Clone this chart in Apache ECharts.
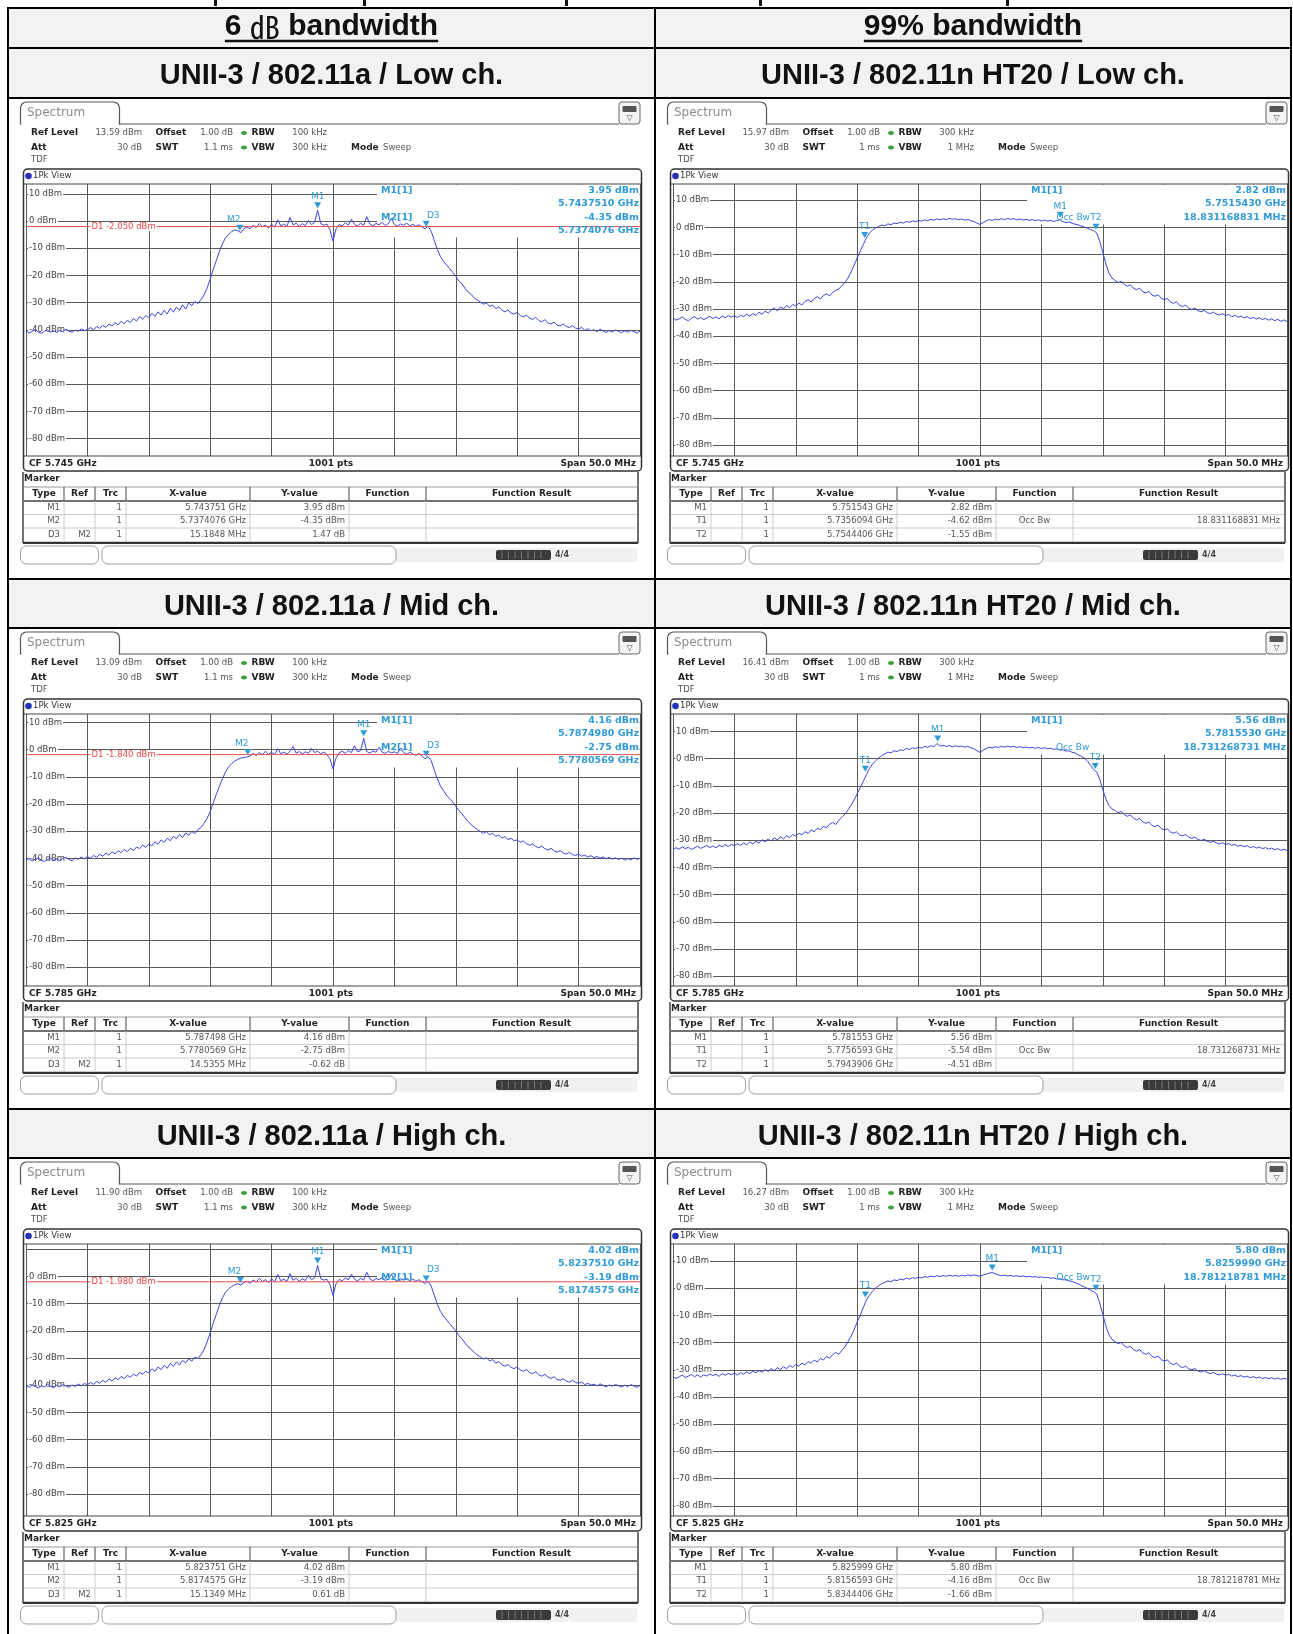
<!DOCTYPE html>
<html><head><meta charset="utf-8">
<script src="https://cdn.jsdelivr.net/npm/echarts@6.0.0/dist/echarts.min.js"></script>
<style>html,body{margin:0;padding:0;background:#fff}#c{width:1293px;height:1634px}</style>
</head><body><div id="c"></div>
<script>
// ---------------- DATA ----------------
const sweepOffsetsMHz = [
-25,-24.75,-24.5,-24.25,-24,-23.75,-23.5,-23.25,-23,-22.75,-22.5,-22.25,-22,-21.75,-21.5,-21.25,-21,-20.75,-20.5,-20.25,
-20,-19.75,-19.5,-19.25,-19,-18.75,-18.5,-18.25,-18,-17.75,-17.5,-17.25,-17,-16.75,-16.5,-16.25,-16,-15.75,-15.5,-15.25,
-15,-14.75,-14.5,-14.25,-14,-13.75,-13.5,-13.25,-13,-12.75,-12.5,-12.25,-12,-11.75,-11.5,-11.25,-11,-10.75,-10.5,-10.25,
-10,-9.75,-9.5,-9.25,-9,-8.75,-8.5,-8.25,-8,-7.75,-7.5,-7.25,-7,-6.75,-6.5,-6.25,-6,-5.75,-5.5,-5.25,
-5,-4.75,-4.5,-4.25,-4,-3.75,-3.5,-3.25,-3,-2.75,-2.5,-2.25,-2,-1.75,-1.5,-1.25,-1,-0.75,-0.5,-0.25,
0,0.25,0.5,0.75,1,1.25,1.5,1.75,2,2.25,2.5,2.75,3,3.25,3.5,3.75,4,4.25,4.5,4.75,
5,5.25,5.5,5.75,6,6.25,6.5,6.75,7,7.25,7.5,7.75,8,8.25,8.5,8.75,9,9.25,9.5,9.75,
10,10.25,10.5,10.75,11,11.25,11.5,11.75,12,12.25,12.5,12.75,13,13.25,13.5,13.75,14,14.25,14.5,14.75,
15,15.25,15.5,15.75,16,16.25,16.5,16.75,17,17.25,17.5,17.75,18,18.25,18.5,18.75,19,19.25,19.5,19.75,
20,20.25,20.5,20.75,21,21.25,21.5,21.75,22,22.25,22.5,22.75,23,23.25,23.5,23.75,24,24.25,24.5,24.75,25];

const level11aLow = [
-40.3,-41.2,-40.6,-39.9,-40.8,-41.4,-40.5,-40.1,-40.9,-40.4,-41.0,-40.2,-40.7,-39.8,-40.5,-40.9,-40.1,-40.6,-39.7,-40.3,
-39.9,-39.2,-40.1,-38.8,-39.5,-38.4,-39.1,-37.9,-38.6,-37.4,-38.2,-36.9,-37.8,-36.5,-37.3,-35.9,-36.8,-35.2,-36.1,-34.8,
-35.6,-33.9,-35.1,-33.4,-34.6,-32.8,-34.2,-32.1,-33.5,-31.7,-32.9,-30.8,-32.4,-30.2,-31.1,-29.6,-30.4,-28.9,-27.2,-24.6,
-21.3,-17.8,-14.6,-11.2,-8.4,-6.1,-5.0,-3.9,-3.3,-3.6,-4.3,-2.8,-2.2,-2.9,-1.6,-2.4,-0.9,-2.1,-1.5,-2.6,
-1.2,-2.3,0.4,-1.8,-1.1,-2.0,1.3,-1.5,-0.8,-1.9,-1.0,-1.7,0.2,-1.3,-0.6,3.95,-0.9,-1.6,-1.1,-3.2,
-7.4,-2.9,-1.3,-1.8,-0.7,-1.5,0.6,-1.2,-1.9,-0.8,-1.6,1.6,-1.1,-1.8,-0.9,-1.4,-0.5,-1.7,-1.0,0.9,
-1.3,-1.9,-1.1,-1.6,-0.8,-1.8,-1.2,-2.0,-1.4,-2.2,-2.9,-1.9,-3.8,-7.2,-10.5,-13.1,-14.8,-16.2,-17.5,-18.9,
-20.4,-22.1,-23.0,-24.8,-26.1,-27.0,-28.3,-29.1,-29.8,-30.6,-30.1,-31.4,-30.9,-32.2,-31.6,-32.8,-33.4,-32.7,-33.9,-34.2,
-33.6,-34.8,-35.3,-34.6,-35.7,-36.2,-35.4,-36.6,-37.1,-36.3,-37.4,-37.9,-37.2,-38.3,-38.6,-37.9,-38.8,-39.2,-38.5,-39.4,
-39.7,-39.1,-40.2,-39.6,-40.4,-40.0,-40.7,-39.8,-40.5,-41.0,-40.3,-40.8,-40.1,-40.6,-41.1,-40.4,-40.9,-40.2,-40.7,-41.2,-40.5];

const level11aMid = [
-40.6,-40.1,-40.9,-40.3,-39.8,-40.7,-41.1,-40.4,-39.9,-40.6,-40.2,-40.8,-40.0,-39.6,-40.4,-40.9,-39.8,-40.3,-39.5,-40.1,
-39.4,-39.9,-38.9,-39.6,-38.5,-39.2,-38.1,-38.8,-37.6,-38.3,-37.2,-37.9,-36.7,-37.5,-36.3,-37.0,-35.8,-36.4,-35.1,-35.9,
-34.7,-35.4,-33.9,-34.8,-33.2,-34.1,-32.6,-33.5,-31.9,-32.8,-31.2,-32.3,-30.6,-31.5,-30.1,-30.9,-29.4,-28.6,-27.1,-25.3,
-22.8,-19.6,-16.4,-13.5,-10.7,-8.2,-6.3,-5.1,-4.2,-3.6,-3.1,-2.9,-2.75,-2.3,-1.4,-2.2,-1.1,-1.9,-0.6,-1.7,
-1.0,-1.8,0.3,-1.5,-0.9,-1.7,-0.5,1.2,-1.3,-0.7,-1.6,-0.8,-1.4,0.5,-1.1,-0.6,-1.5,-0.9,-1.8,-3.4,
-7.1,-3.0,-1.2,-0.6,-1.4,-0.3,-1.1,1.4,-0.8,-0.4,4.16,-0.7,-1.3,-0.5,-1.0,0.8,-0.9,-1.4,-0.6,-1.2,
-0.8,-1.5,0.6,-1.1,-1.7,-1.0,-1.6,-2.1,-1.4,-2.3,-3.37,-2.6,-4.1,-7.6,-10.8,-13.4,-15.1,-16.8,-18.0,-19.3,
-20.8,-22.4,-23.6,-25.1,-26.4,-27.6,-28.5,-29.4,-30.1,-30.8,-30.2,-31.3,-30.7,-31.9,-31.4,-32.5,-32.0,-33.1,-32.6,-33.5,
-33.2,-34.1,-33.6,-34.6,-35.2,-34.7,-35.6,-36.1,-35.5,-36.4,-36.9,-36.3,-37.2,-37.7,-37.1,-38.0,-38.4,-37.8,-38.6,-38.9,
-38.4,-39.2,-38.8,-39.5,-39.0,-39.7,-39.3,-39.9,-39.4,-40.1,-39.6,-40.3,-39.8,-40.4,-39.9,-40.6,-40.1,-40.5,-39.8,-40.3,-40.0];

const level11aHigh = [
-40.1,-40.8,-39.9,-40.5,-41.0,-40.2,-40.7,-39.7,-40.4,-40.9,-40.0,-40.6,-39.8,-40.3,-40.8,-39.9,-40.5,-39.6,-40.2,-39.4,
-39.8,-39.0,-39.7,-38.6,-39.3,-38.2,-38.9,-37.7,-38.5,-37.3,-38.0,-36.8,-37.6,-36.4,-37.1,-35.9,-36.7,-35.3,-36.0,-34.9,
-35.5,-34.0,-34.9,-33.3,-34.3,-32.7,-33.8,-32.0,-33.1,-31.4,-32.6,-30.9,-31.8,-30.3,-31.2,-29.7,-30.2,-28.8,-26.9,-24.1,
-20.7,-17.1,-13.9,-10.6,-7.9,-5.8,-4.6,-3.7,-3.1,-2.7,-3.19,-2.2,-1.8,-2.6,-1.3,-2.1,-0.7,-1.9,-1.2,-2.3,
-0.9,-2.0,0.7,-1.6,-1.0,-1.9,1.0,-1.4,-0.7,-1.8,-0.9,-1.5,0.4,-1.2,-0.5,4.02,-0.8,-1.4,-1.0,-3.0,
-7.0,-2.7,-1.1,-1.7,-0.6,-1.3,0.8,-1.0,-1.7,-0.7,-1.4,1.5,-0.9,-1.6,-0.8,-1.2,-0.4,-1.5,-0.9,0.7,
-1.1,-1.7,-0.9,-1.4,-0.7,-1.6,-1.0,-1.8,-1.2,-2.0,-2.58,-1.8,-3.6,-7.0,-10.3,-12.9,-14.6,-16.0,-17.4,-18.7,
-20.1,-21.8,-22.9,-24.5,-25.9,-26.8,-28.0,-28.9,-29.6,-30.4,-29.9,-31.1,-30.6,-31.9,-31.3,-32.5,-33.0,-32.4,-33.5,-33.9,
-33.3,-34.4,-34.9,-34.2,-35.3,-35.8,-35.1,-36.2,-36.7,-36.0,-37.0,-37.5,-36.9,-37.9,-38.2,-37.6,-38.5,-38.9,-38.2,-39.0,
-39.3,-38.8,-39.8,-39.3,-40.0,-39.6,-40.3,-39.5,-40.1,-40.6,-39.9,-40.4,-39.7,-40.2,-40.7,-40.0,-40.5,-39.8,-40.3,-40.8,-40.1];

const level11nLow = [
-33.2,-34.1,-33.6,-32.9,-33.8,-34.3,-33.4,-32.8,-33.7,-33.1,-33.9,-33.3,-32.7,-33.5,-32.9,-33.6,-32.6,-33.2,-32.4,-33.0,
-32.5,-33.1,-32.3,-32.8,-31.9,-32.6,-31.7,-32.3,-31.2,-31.9,-30.8,-31.5,-30.4,-29.6,-30.7,-29.2,-30.0,-28.7,-29.5,-28.3,
-28.9,-27.8,-28.5,-27.2,-26.6,-27.4,-26.1,-25.5,-26.3,-25.0,-24.4,-25.2,-23.9,-23.1,-22.6,-21.4,-20.3,-18.6,-16.4,-13.9,
-11.2,-8.6,-6.3,-3.8,-2.1,-0.9,-0.2,0.4,0.9,0.6,1.3,1.0,1.6,1.4,1.9,1.6,2.2,1.9,2.4,2.1,
2.6,2.3,2.8,2.5,3.0,2.7,3.1,2.8,3.2,2.9,3.3,3.0,3.2,2.8,3.1,2.7,2.9,2.5,2.2,1.6,
1.1,1.8,2.4,2.9,2.6,3.1,2.8,3.2,2.9,3.3,3.0,3.2,2.8,3.1,2.7,3.0,2.6,2.9,2.5,2.8,
2.4,2.7,2.3,2.6,2.2,2.5,2.82,2.1,1.8,2.0,1.5,1.2,0.9,0.5,0.2,-0.3,-0.8,-1.2,-2.0,-5.1,
-9.2,-13.4,-16.8,-18.6,-19.5,-20.3,-19.8,-21.0,-21.6,-21.1,-22.4,-22.9,-22.3,-23.6,-24.1,-23.5,-24.8,-25.3,-24.7,-26.0,
-26.6,-26.1,-27.4,-27.9,-27.3,-28.6,-29.1,-28.5,-29.7,-30.2,-29.6,-30.6,-31.0,-30.5,-31.3,-31.7,-31.1,-31.9,-32.2,-31.7,
-32.4,-32.0,-32.8,-32.3,-33.0,-32.6,-33.3,-32.8,-33.5,-33.1,-33.7,-33.2,-33.9,-33.4,-34.1,-33.6,-34.3,-33.8,-34.5,-34.0,-34.6];

const level11nMid = [
-33.5,-32.7,-33.3,-32.4,-33.1,-32.6,-33.4,-32.8,-32.2,-33.0,-32.5,-31.9,-32.7,-32.1,-32.8,-31.8,-32.4,-31.6,-32.3,-31.5,
-32.0,-31.3,-31.9,-31.0,-31.7,-30.6,-31.4,-30.3,-31.0,-29.8,-30.6,-29.5,-30.3,-29.1,-29.9,-28.7,-29.5,-28.4,-29.0,-27.9,
-28.5,-27.4,-28.0,-26.8,-27.5,-26.2,-26.9,-25.6,-26.1,-24.9,-25.4,-24.1,-23.5,-24.2,-22.7,-21.6,-20.4,-18.9,-17.1,-15.2,
-12.9,-10.6,-8.3,-5.9,-3.6,-2.0,-0.8,0.3,1.1,1.8,2.4,2.1,2.9,2.6,3.3,3.0,3.7,3.4,4.0,3.7,
4.2,3.9,4.5,4.1,4.8,4.4,5.56,4.6,4.9,4.5,4.8,4.3,4.7,4.4,4.6,4.2,4.5,4.0,3.6,2.9,
2.3,3.1,3.7,4.2,3.9,4.4,4.1,4.5,4.2,4.6,4.3,4.5,4.1,4.4,4.0,4.3,3.9,4.2,3.8,4.1,
3.7,4.0,3.6,3.8,3.4,3.6,3.1,3.3,2.8,2.9,2.3,2.1,1.4,0.9,0.2,-0.9,-2.4,-4.0,-4.9,-7.6,
-11.4,-14.8,-17.2,-18.5,-19.1,-19.9,-19.4,-20.6,-21.2,-20.7,-21.9,-22.5,-22.0,-23.2,-23.8,-23.3,-24.5,-25.0,-24.4,-25.7,
-26.2,-25.8,-26.9,-27.4,-26.9,-28.0,-28.4,-27.9,-28.9,-29.3,-28.8,-29.7,-30.1,-29.6,-30.4,-30.8,-30.3,-31.0,-31.4,-30.9,
-31.6,-31.2,-31.9,-31.5,-32.2,-31.8,-32.4,-32.0,-32.7,-32.3,-32.9,-32.5,-33.1,-32.7,-33.3,-32.9,-33.5,-33.1,-33.7,-33.3,-33.8];

const level11nHigh = [
-32.4,-33.2,-32.6,-31.9,-32.8,-32.3,-31.7,-32.5,-31.9,-32.6,-31.8,-32.3,-31.5,-32.1,-31.6,-32.4,-31.4,-32.0,-31.3,-31.8,
-31.2,-31.9,-31.0,-31.6,-30.7,-31.4,-30.5,-31.1,-30.2,-30.9,-29.9,-30.6,-29.5,-30.3,-29.2,-29.9,-28.8,-29.6,-28.4,-29.1,
-28.0,-28.7,-27.5,-28.2,-26.9,-27.6,-26.4,-27.1,-25.8,-26.4,-25.1,-25.7,-24.4,-23.6,-24.3,-22.8,-21.5,-19.7,-17.6,-15.3,
-12.4,-9.8,-7.1,-4.3,-2.6,-1.1,0.1,0.9,1.6,2.2,2.7,2.4,3.1,2.8,3.4,3.1,3.7,3.4,3.9,3.6,
4.1,3.8,4.3,4.0,4.5,4.2,4.6,4.3,4.7,4.4,4.8,4.5,4.7,4.4,4.8,4.5,4.9,4.6,4.9,4.7,
4.4,4.9,5.2,5.5,5.80,5.3,4.9,4.6,4.8,4.5,4.7,4.4,4.6,4.3,4.5,4.2,4.4,4.1,4.3,4.0,
4.2,3.9,4.0,3.7,3.8,3.4,3.5,3.1,3.1,2.7,2.5,2.0,1.6,1.0,0.5,-0.1,-0.7,-1.2,-2.1,-5.4,
-9.6,-13.9,-17.1,-18.8,-19.6,-20.4,-19.9,-21.2,-21.8,-21.3,-22.6,-23.1,-22.5,-23.8,-24.3,-23.7,-25.0,-25.5,-24.9,-26.2,
-26.8,-26.3,-27.6,-28.1,-27.5,-28.7,-29.2,-28.6,-29.6,-30.0,-29.5,-30.4,-30.8,-30.3,-31.0,-31.4,-30.9,-31.6,-31.9,-31.4,
-32.0,-31.6,-32.3,-31.9,-32.5,-32.1,-32.7,-32.3,-32.9,-32.5,-33.0,-32.6,-33.2,-32.8,-33.3,-32.9,-33.4,-33.0,-33.5,-33.1,-33.4];

const gridLevelsDbm = [10, 0, -10, -20, -30, -40, -50, -60, -70, -80];
const gridLevelLabels = ['10 dBm','0 dBm','-10 dBm','-20 dBm','-30 dBm','-40 dBm','-50 dBm','-60 dBm','-70 dBm','-80 dBm'];
const columnTitles = ['6 \u33C8 bandwidth', '99% bandwidth'];
const tableHeads = ['Type','Ref','Trc','X-value','Y-value','Function','Function Result'];

const panels = [
 {col:0,row:0,title:'UNII-3 / 802.11a / Low ch.',ref:13.59,rbw:'100 kHz',swt:'1.1 ms',vbw:'300 kHz',cf:'CF 5.745 GHz',trace:level11aLow,
  d1:-2.05,d1Text:'D1 -2.050 dBm',
  markers:[{n:'M1',x:-1.249,y:3.95,lab:'top'},{n:'M2',x:-7.5924,y:-4.35,lab:'tl'},{n:'D3',x:7.5924,y:-2.88,lab:'tr'}],
  info:[['M1[1]','3.95 dBm'],['','5.7437510 GHz'],['M2[1]','-4.35 dBm'],['','5.7374076 GHz']],
  table:[['M1','','1','5.743751 GHz','3.95 dBm','',''],['M2','','1','5.7374076 GHz','-4.35 dBm','',''],['D3','M2','1','15.1848 MHz','1.47 dB','','']]},
 {col:0,row:1,title:'UNII-3 / 802.11a / Mid ch.',ref:13.09,rbw:'100 kHz',swt:'1.1 ms',vbw:'300 kHz',cf:'CF 5.785 GHz',trace:level11aMid,
  d1:-1.84,d1Text:'D1 -1.840 dBm',
  markers:[{n:'M1',x:2.498,y:4.16,lab:'top'},{n:'M2',x:-6.9431,y:-2.75,lab:'tl'},{n:'D3',x:7.5924,y:-3.37,lab:'tr'}],
  info:[['M1[1]','4.16 dBm'],['','5.7874980 GHz'],['M2[1]','-2.75 dBm'],['','5.7780569 GHz']],
  table:[['M1','','1','5.787498 GHz','4.16 dBm','',''],['M2','','1','5.7780569 GHz','-2.75 dBm','',''],['D3','M2','1','14.5355 MHz','-0.62 dB','','']]},
 {col:0,row:2,title:'UNII-3 / 802.11a / High ch.',ref:11.90,rbw:'100 kHz',swt:'1.1 ms',vbw:'300 kHz',cf:'CF 5.825 GHz',trace:level11aHigh,
  d1:-1.98,d1Text:'D1 -1.980 dBm',
  markers:[{n:'M1',x:-1.249,y:4.02,lab:'top'},{n:'M2',x:-7.5425,y:-3.19,lab:'tl'},{n:'D3',x:7.5924,y:-2.58,lab:'tr'}],
  info:[['M1[1]','4.02 dBm'],['','5.8237510 GHz'],['M2[1]','-3.19 dBm'],['','5.8174575 GHz']],
  table:[['M1','','1','5.823751 GHz','4.02 dBm','',''],['M2','','1','5.8174575 GHz','-3.19 dBm','',''],['D3','M2','1','15.1349 MHz','0.61 dB','','']]},
 {col:1,row:0,title:'UNII-3 / 802.11n HT20 / Low ch.',ref:15.97,rbw:'300 kHz',swt:'1 ms',vbw:'1 MHz',cf:'CF 5.745 GHz',trace:level11nLow,
  markers:[{n:'M1',x:6.543,y:2.82,lab:'top'},{n:'T1',x:-9.3906,y:-4.62,lab:'top'},{n:'T2',x:9.4406,y:-1.55,lab:'top'}],
  info:[['M1[1]','2.82 dBm'],['','5.7515430 GHz'],['','18.831168831 MHz']],
  table:[['M1','','1','5.751543 GHz','2.82 dBm','',''],['T1','','1','5.7356094 GHz','-4.62 dBm','Occ Bw','18.831168831 MHz'],['T2','','1','5.7544406 GHz','-1.55 dBm','','']]},
 {col:1,row:1,title:'UNII-3 / 802.11n HT20 / Mid ch.',ref:16.41,rbw:'300 kHz',swt:'1 ms',vbw:'1 MHz',cf:'CF 5.785 GHz',trace:level11nMid,
  markers:[{n:'M1',x:-3.447,y:5.56,lab:'top'},{n:'T1',x:-9.3407,y:-5.54,lab:'top'},{n:'T2',x:9.3906,y:-4.51,lab:'top'}],
  info:[['M1[1]','5.56 dBm'],['','5.7815530 GHz'],['','18.731268731 MHz']],
  table:[['M1','','1','5.781553 GHz','5.56 dBm','',''],['T1','','1','5.7756593 GHz','-5.54 dBm','Occ Bw','18.731268731 MHz'],['T2','','1','5.7943906 GHz','-4.51 dBm','','']]},
 {col:1,row:2,title:'UNII-3 / 802.11n HT20 / High ch.',ref:16.27,rbw:'300 kHz',swt:'1 ms',vbw:'1 MHz',cf:'CF 5.825 GHz',trace:level11nHigh,
  markers:[{n:'M1',x:0.999,y:5.80,lab:'top'},{n:'T1',x:-9.3407,y:-4.16,lab:'top'},{n:'T2',x:9.4406,y:-1.66,lab:'top'}],
  info:[['M1[1]','5.80 dBm'],['','5.8259990 GHz'],['','18.781218781 MHz']],
  table:[['M1','','1','5.825999 GHz','5.80 dBm','',''],['T1','','1','5.8156593 GHz','-4.16 dBm','Occ Bw','18.781218781 MHz'],['T2','','1','5.8344406 GHz','-1.66 dBm','','']]}
];

// ---------------- LAYOUT ----------------
const COL_X = [8, 655], COL_R = [655, 1291];
const PANEL_TOP = [98, 628, 1158];
const HEAD_ROWS = [[48, 98], [579, 628], [1109, 1158]];
const D = 2; // vertical nudge of panel content
const L = {gridX: 18, gridY: 84 + D, gridW: 614, gridH: 272};
const TRACE = '#3d45de', CYAN = '#2f9ad8', GRIDC = '#5a5a5a';
const F = '"DejaVu Sans"';

const chart = echarts.init(document.getElementById('c'), null, {renderer: 'canvas'});
const grids = [], xAxes = [], yAxes = [], series = [];
panels.forEach((p, i) => {
  const cx = COL_X[p.col], cy = PANEL_TOP[p.row];
  grids.push({left: cx + L.gridX, top: cy + L.gridY, width: L.gridW, height: L.gridH, show: false});
  xAxes.push({gridIndex: i, type: 'value', min: -25, max: 25, interval: 5,
    axisLine: {show: false}, axisTick: {show: false}, axisLabel: {show: false},
    splitLine: {show: true, lineStyle: {color: GRIDC, width: 1}}});
  yAxes.push({gridIndex: i, type: 'value', min: Math.round((p.ref - 100) * 100) / 100, max: p.ref,
    axisLine: {show: false}, axisTick: {show: false}, axisLabel: {show: false}, splitLine: {show: false}});
  series.push({
    type: 'line', xAxisIndex: i, yAxisIndex: i, z: 2, silent: true, symbol: 'none', animation: false,
    lineStyle: {color: TRACE, width: 1}, data: sweepOffsetsMHz.map((f, k) => [f, p.trace[k]]),
    markLine: {silent: true, z: 0, symbol: ['none', 'none'], animation: false, label: {show: false},
      lineStyle: {color: GRIDC, width: 1, type: 'solid'}, emphasis: {disabled: true},
      data: gridLevelsDbm.filter(v => v < p.ref).map(v => ({yAxis: v}))},
    markPoint: {silent: true, z: 6, animation: false,
      data: p.markers.map(m => ({coord: [m.x, m.y], symbol: 'triangle', symbolRotate: 180, symbolSize: [7, 6],
        symbolOffset: [0, -5], itemStyle: {color: CYAN},
        label: {show: true, formatter: m.n, color: CYAN, fontSize: 9, fontFamily: 'DejaVu Sans',
          position: 'top', distance: 1, offset: m.lab === 'tl' ? [-6, 0] : (m.lab === 'tr' ? [7, 0] : [0, 0])}}))}
  });
  if (p.d1 !== undefined) {
    series.push({type: 'line', xAxisIndex: i, yAxisIndex: i, z: 3, silent: true, symbol: 'none', animation: false,
      lineStyle: {color: '#ec5050', width: 1}, data: [[-25, p.d1], [25, p.d1]]});
  }
});
chart.setOption({animation: false, backgroundColor: '#fff', grid: grids, xAxis: xAxes, yAxis: yAxes, series: series});

// ---------------- GRAPHIC OVERLAY ----------------
const G = [];
function T(x, y, text, o) { o = o || {}; G.push({type: 'text', x: x, y: y, z: o.z == null ? 20 : o.z, silent: true,
  style: {text: text, fill: o.fill || '#222', font: o.font || ('9px ' + F), textAlign: o.align || 'left',
  textVerticalAlign: o.va || 'middle', backgroundColor: o.bg, padding: o.pad, rich: o.rich}}); }
function R(x, y, w, h, o) { o = o || {}; G.push({type: 'rect', z: o.z == null ? 10 : o.z, silent: true,
  shape: {x: x, y: y, width: w, height: h, r: o.r || 0},
  style: {fill: o.fill || 'none', stroke: o.stroke || null, lineWidth: o.lw || 1}}); }
function Ln(x1, y1, x2, y2, c, lw, z) { G.push({type: 'line', z: z == null ? 12 : z, silent: true,
  shape: {x1: x1, y1: y1, x2: x2, y2: y2}, style: {stroke: c, lineWidth: lw || 1}}); }

const meas = document.createElement('canvas').getContext('2d');
function textW(font, s) { meas.font = font; return meas.measureText(s).width; }

// clipped text fragments of the previous line
[214, 363, 565, 759, 1006].forEach(x => R(x, 0, 3, 6, {fill: '#111', z: 5}));

// header backgrounds
R(COL_X[0], 8, 1283, 40, {fill: '#f2f2f2', z: 0});
HEAD_ROWS.forEach(r => R(COL_X[0], r[0], 1283, r[1] - r[0], {fill: '#f2f2f2', z: 0}));

// column titles (underlined)
const TF = 'bold 30px "Liberation Sans"', CJ = '30px "Noto Sans CJK KR"';
[0, 1].forEach(c => {
  const mid = (COL_X[c] + COL_R[c]) / 2;
  let w;
  if (c === 0) {
    w = textW(TF, '6 ') + textW(CJ, '\u33C8') + textW(TF, ' bandwidth');
    T(mid, 26.5, '{a|6 }{b|\u33C8}{a| bandwidth}', {align: 'center', rich: {a: {font: TF, fill: '#111'}, b: {font: CJ, fill: '#111'}}});
  } else {
    w = textW(TF, columnTitles[1]);
    T(mid, 26.5, columnTitles[1], {align: 'center', font: TF, fill: '#111'});
  }
  Ln(mid - w / 2, 41, mid + w / 2, 41, '#111', 2.5, 20);
});

// row headers
panels.forEach(p => {
  const r = HEAD_ROWS[p.row];
  T((COL_X[p.col] + COL_R[p.col]) / 2, (r[0] + r[1]) / 2 + 3, p.title, {align: 'center', font: 'bold 29px "Liberation Sans"', fill: '#111'});
});

// table borders
[8, 48, 98, 579, 628, 1109, 1158].forEach(y => Ln(7, y, 1292, y, '#000', 2, 30));
[8, 655, 1291].forEach(x => Ln(x, 7, x, 1634, '#000', 2, 30));

// panels chrome
panels.forEach((p, i) => {
  const cx = COL_X[p.col], cy = PANEL_TOP[p.row];
  const cd = cy + D;
  // tab
  R(cx + 12.5, cy + 4, 99, 22, {r: [6, 6, 0, 0], fill: '#fff', stroke: '#555', lw: 1.2, z: 10});
  Ln(cx + 13.5, cy + 26, cx + 110.5, cy + 26, '#fff', 2, 11);
  Ln(cx + 111.5, cy + 26, cx + 611, cy + 26, '#555', 1.2, 11);
  T(cx + 19, cy + 15, 'Spectrum', {fill: '#8c8c8c', font: '12px ' + F});
  // icon
  R(cx + 611, cy + 4, 21, 22, {r: 3, fill: '#f4f4f4', stroke: '#666', lw: 1, z: 10});
  R(cx + 614.5, cy + 8, 14, 6, {r: 1, fill: '#555', z: 11});
  T(cx + 621.5, cy + 19.5, '\u25BD', {align: 'center', fill: '#555', font: '8px ' + F});
  // settings
  const BF = 'bold 9px ' + F, VF = '8.5px ' + F;
  T(cx + 23, cd + 33, 'Ref Level', {font: BF}); T(cx + 134, cd + 33, p.ref.toFixed(2) + ' dBm', {font: VF, fill: '#555', align: 'right'});
  T(cx + 147.5, cd + 33, 'Offset', {font: BF}); T(cx + 225, cd + 33, '1.00 dB', {font: VF, fill: '#555', align: 'right'});
  T(cx + 243.5, cd + 33, 'RBW', {font: BF}); T(cx + 319, cd + 33, p.rbw, {font: VF, fill: '#555', align: 'right'});
  T(cx + 23, cd + 47.5, 'Att', {font: BF}); T(cx + 134, cd + 47.5, '30 dB', {font: VF, fill: '#555', align: 'right'});
  T(cx + 147.5, cd + 47.5, 'SWT', {font: BF}); T(cx + 225, cd + 47.5, p.swt, {font: VF, fill: '#555', align: 'right'});
  T(cx + 243.5, cd + 47.5, 'VBW', {font: BF}); T(cx + 319, cd + 47.5, p.vbw, {font: VF, fill: '#555', align: 'right'});
  T(cx + 343, cd + 47.5, 'Mode', {font: BF}); T(cx + 375, cd + 47.5, 'Sweep', {font: VF, fill: '#555'});
  T(cx + 23, cd + 60, 'TDF', {font: VF, fill: '#555'});
  G.push({type: 'ellipse', z: 12, silent: true, shape: {cx: cx + 236, cy: cd + 33, rx: 3, ry: 2}, style: {fill: '#3aa03a'}});
  G.push({type: 'ellipse', z: 12, silent: true, shape: {cx: cx + 236, cy: cd + 47.5, rx: 3, ry: 2}, style: {fill: '#3aa03a'}});
  // frame
  R(cx + 15.5, cd + 69, 618, 302, {r: 4, stroke: '#333', lw: 1.5, z: 15});
  Ln(cx + 16, cy + L.gridY, cx + 633, cy + L.gridY, '#444', 1, 15);
  Ln(cx + 16, cy + L.gridY + L.gridH, cx + 633, cy + L.gridY + L.gridH, '#444', 1, 15);
  G.push({type: 'circle', z: 16, silent: true, shape: {cx: cx + 20.5, cy: cd + 76, r: 3.3}, style: {fill: '#2433b8'}});
  T(cx + 25, cd + 76, '1Pk View', {font: '8.5px ' + F, fill: '#333'});
  T(cx + 21, cd + 364, p.cf, {font: BF});
  T(cx + 323, cd + 364, '1001 pts', {font: BF, align: 'center'});
  T(cx + 628, cd + 364, 'Span 50.0 MHz', {font: BF, align: 'right'});
  // marker table
  T(cx + 16, cd + 379, 'Marker', {font: BF});
  const cols = [16, 56, 87, 118, 242, 341, 418, 629];
  const tTop = cd + 387, hB = cd + 401, rh = 13.5;
  R(cx + 16, tTop, 613, 14, {fill: '#fff', z: 10});
  Ln(cx + 16, tTop, cx + 629, tTop, '#999', 1, 12);
  Ln(cx + 16, hB, cx + 629, hB, '#444', 1.3, 12);
  for (let k = 1; k < 7; k++) Ln(cx + cols[k], tTop, cx + cols[k], hB, '#444', 1, 12);
  for (let k = 1; k < 7; k++) Ln(cx + cols[k], hB, cx + cols[k], hB + 3 * rh, '#ccc', 1, 12);
  for (let r = 1; r <= 3; r++) Ln(cx + 16, hB + r * rh, cx + 629, hB + r * rh, '#ccc', 1, 12);
  Ln(cx + 15, cd + 372, cx + 15, cd + 443, '#444', 1.5, 12);
  Ln(cx + 630, cd + 372, cx + 630, cd + 443, '#444', 1.5, 12);
  Ln(cx + 15, cd + 443, cx + 630, cd + 443, '#333', 2, 12);
  tableHeads.forEach((h, k) => T(cx + (cols[k] + cols[k + 1]) / 2, tTop + 7, h, {font: BF, align: 'center'}));
  const TVF = '8.5px ' + F;
  p.table.forEach((row, r) => {
    const yy = hB + r * rh + rh / 2;
    row.forEach((v, k) => {
      if (!v) return;
      if (k === 5) T(cx + (cols[5] + cols[6]) / 2, yy, v, {font: TVF, fill: '#555', align: 'center'});
      else T(cx + cols[k + 1] - 4, yy, v, {font: TVF, fill: '#555', align: 'right'});
    });
  });
  // status bar
  R(cx + 12.5, cy + 448, 78, 18, {r: 6, stroke: '#a0a0a0', fill: '#fff', z: 10});
  R(cx + 94, cy + 448, 294, 18, {r: 6, stroke: '#a0a0a0', fill: '#fff', z: 10});
  R(cx + 388, cy + 450, 241, 14, {fill: '#f1f1f1', z: 9});
  R(cx + 488, cy + 452, 55, 10, {r: 2, fill: '#3a3a3a', z: 11});
  for (let s = 0; s < 7; s++) Ln(cx + 494 + s * 6.5, cy + 453, cx + 494 + s * 6.5, cy + 461, '#777', 1, 12);
  T(cx + 547, cy + 457, '4/4', {font: 'bold 8px ' + F, fill: '#444'});

  // --- overlays computed with the chart's own scales
  const tl = chart.convertToPixel({gridIndex: i}, [-25, p.ref]);
  const br = chart.convertToPixel({gridIndex: i}, [25, p.ref - 100]);
  const gl = tl[0], gt = tl[1], gr = br[0], gb = br[1];
  gridLevelsDbm.forEach((v, k) => {
    const y = chart.convertToPixel({gridIndex: i}, [-25, v])[1];
    if (y < gt + 6 || y > gb - 3) return;
    T(gl + 2, y, gridLevelLabels[k], {font: '8.5px ' + F, fill: '#444', bg: '#fff', pad: [0, 1, 0, 1], z: 1});
  });
  const isA = p.d1 !== undefined;
  const infoX = gl + (isA ? 355 : 358);
  const boxH = isA ? 53 : 40;
  R(infoX - 4, gt + 0.5, gr - infoX + 3.5, boxH, {fill: '#fff', z: 1});
  const rows = [6.5, 20, 33.5, 47];
  const IF = 'bold 9.5px ' + F;
  p.info.forEach((r, k) => {
    if (r[0]) T(infoX, gt + rows[k], r[0], {font: IF, fill: CYAN});
    T(gr - 1, gt + rows[k], r[1], {font: IF, fill: CYAN, align: 'right'});
  });
  if (isA) {
    const yd = chart.convertToPixel({gridIndex: i}, [-25, p.d1])[1];
    const xd = chart.convertToPixel({gridIndex: i}, [-20, p.d1])[0];
    T(xd + 3, yd, p.d1Text, {font: '8.5px ' + F, fill: '#e84848', bg: '#fff', pad: [0, 1, 0, 1], z: 4});
  } else {
    const t2 = p.markers.find(m => m.n === 'T2');
    const xt = chart.convertToPixel({gridIndex: i}, [t2.x, t2.y])[0];
    T(xt - 6, gt + rows[2], 'Occ Bw', {font: '9px ' + F, fill: CYAN, align: 'right'});
  }
});
chart.setOption({graphic: {elements: G}});
</script></body></html>
